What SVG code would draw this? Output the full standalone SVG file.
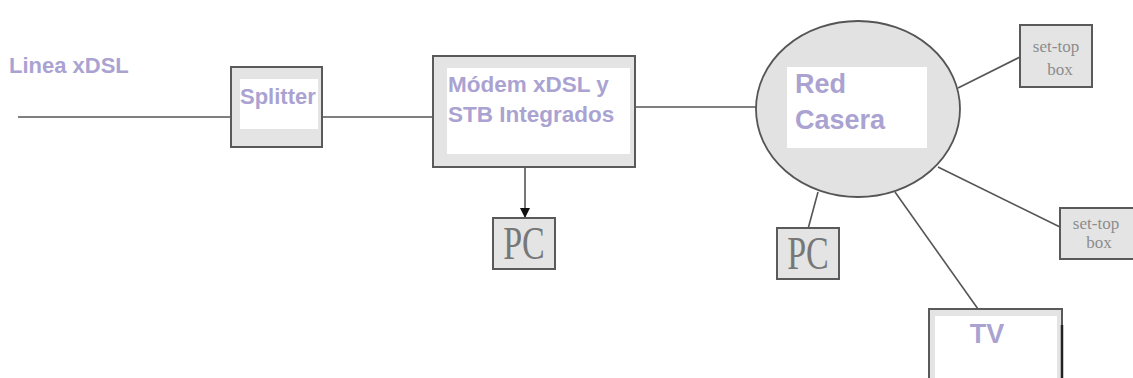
<svg xmlns="http://www.w3.org/2000/svg" width="1133" height="378" viewBox="0 0 1133 378">
<defs>
<style>
.frame{fill:#e4e4e4;stroke:#5a5a5a;stroke-width:2}
.inner{fill:#ffffff;stroke:none}
.conn{stroke:#555;stroke-width:1.6;fill:none}
.lbl{font-family:"Liberation Sans",Arial,sans-serif;fill:#aaa3d2;font-weight:bold}
.serif{font-family:"Liberation Serif","Times New Roman",serif;fill:#777}
.stb{font-family:"Liberation Serif","Times New Roman",serif;fill:#8c8c8c;font-size:17px}
</style>
<marker id="arr" markerWidth="10" markerHeight="10" refX="9" refY="5" orient="auto" markerUnits="userSpaceOnUse">
<path d="M0,0 L10,5 L0,10 Z" fill="#111"/>
</marker>
</defs>
<rect width="1133" height="378" fill="#fff"/>
<g id="connectors">
<line class="conn" x1="18" y1="117" x2="231" y2="117"/>
<line class="conn" x1="322" y1="117" x2="433" y2="117"/>
<line class="conn" x1="635" y1="107" x2="757" y2="107"/>
<line class="conn" x1="525" y1="167" x2="525" y2="217" stroke="#333" stroke-width="2" marker-end="url(#arr)"/>
<line class="conn" x1="818" y1="192" x2="808" y2="229"/>
<line class="conn" x1="958" y1="88" x2="1020" y2="57"/>
<line class="conn" x1="938" y1="167" x2="1060" y2="227"/>
<line class="conn" x1="895" y1="192" x2="978" y2="309"/>
</g>
<g id="linea">
<text class="lbl" x="9" y="73" font-size="22" fill="#b4b0cc">Linea xDSL</text>
</g>
<g id="splitter">
<rect class="frame" x="231" y="67" width="91" height="80"/>
<rect class="inner" x="240" y="79" width="78" height="50"/>
<text class="lbl" x="240" y="104" font-size="22">Splitter</text>
</g>
<g id="modem">
<rect class="frame" x="433" y="56" width="202" height="111"/>
<rect class="inner" x="447" y="68" width="183" height="86"/>
<text class="lbl" x="448" y="92" font-size="22.5">Módem xDSL y</text>
<text class="lbl" x="448" y="122" font-size="22.5">STB Integrados</text>
</g>
<g id="pc1">
<rect class="frame" x="493" y="218" width="62" height="51" stroke-width="1.6"/>
<text class="serif" font-size="34" text-anchor="middle" transform="translate(524,259) scale(1,1.35)">PC</text>
</g>
<g id="red">
<ellipse cx="858" cy="109" rx="102" ry="88" fill="#e2e2e2" stroke="#555" stroke-width="1.8"/>
<rect class="inner" x="787" y="67" width="140" height="81"/>
<text class="lbl" x="795" y="93" font-size="27">Red</text>
<text class="lbl" x="795" y="129" font-size="27">Casera</text>
</g>
<g id="pc2">
<rect class="frame" x="777" y="228" width="62" height="51" stroke-width="1.6"/>
<text class="serif" font-size="34" text-anchor="middle" transform="translate(808,269) scale(1,1.35)">PC</text>
</g>
<g id="stb1">
<rect class="frame" x="1020" y="25" width="72" height="62" stroke-width="1.6"/>
<text class="stb" x="1056" y="52" text-anchor="middle">set-top</text>
<text class="stb" x="1060" y="75" text-anchor="middle">box</text>
</g>
<g id="stb2">
<rect class="frame" x="1060" y="208" width="80" height="51" stroke-width="1.6"/>
<text class="stb" x="1096" y="229" text-anchor="middle">set-top</text>
<text class="stb" x="1099" y="248" text-anchor="middle">box</text>
</g>
<g id="tv">
<rect class="frame" x="929" y="309" width="133" height="80" stroke-width="1.6"/>
<rect class="inner" x="935" y="316" width="122" height="70"/>
<line x1="1062" y1="325" x2="1062" y2="378" stroke="#222" stroke-width="2.5"/>
<text class="lbl" x="987" y="343" font-size="27" text-anchor="middle">TV</text>
</g>
</svg>
